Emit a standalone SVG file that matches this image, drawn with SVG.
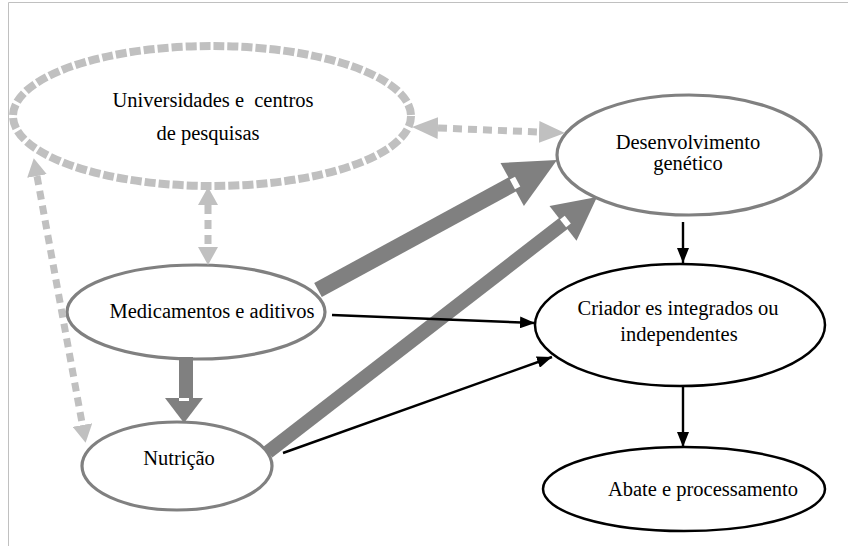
<svg xmlns="http://www.w3.org/2000/svg" width="848" height="546" viewBox="0 0 848 546">
<style>
text{font-family:"Liberation Serif","Times New Roman",serif;font-size:20.5px;fill:#000;text-anchor:middle}
.gn{fill:#fff;stroke:#808080;stroke-width:3.2}
.bn{fill:#fff;stroke:#000;stroke-width:2.5}
.dn{fill:#fff;stroke:#c0c0c0;stroke-width:8;stroke-dasharray:11 3}
.dc{fill:none;stroke:#c0c0c0;stroke-width:7;stroke-dasharray:9 6;marker-start:url(#dh);marker-end:url(#dh)}
.bc{fill:none;stroke:#000;stroke-width:2.4;marker-end:url(#bh)}
.th{fill:#808080}
.tl{stroke:#808080;fill:none}
.nt{fill:#fff}
</style>
<defs>
<marker id="dh" viewBox="0 -10 18 20" refX="0" refY="0" markerWidth="18" markerHeight="20" markerUnits="userSpaceOnUse" orient="auto-start-reverse"><path d="M0,-10 L18,0 L0,10 z" fill="#c0c0c0"/></marker>
<marker id="dhl" viewBox="0 -11 26 22" refX="0" refY="0" markerWidth="26" markerHeight="22" markerUnits="userSpaceOnUse" orient="auto-start-reverse"><path d="M0,-11 L26,0 L0,11 z" fill="#c0c0c0"/></marker>
<marker id="bh" viewBox="0 0 15 12" refX="15" refY="6" markerWidth="15" markerHeight="12" markerUnits="userSpaceOnUse" orient="auto"><path d="M0,0 L15,6 L0,12 z" fill="#000"/></marker>
</defs>
<g id="frame"><path d="M8.5,546 V2.5 H848" fill="none" stroke="#c0c0c0" stroke-width="1"/></g>
<g id="universidades"><ellipse class="dn" cx="212" cy="116" rx="199" ry="70"/><text x="213" y="107" style="white-space:pre">Universidades e  centros</text><text x="208" y="140">de pesquisas</text></g>
<g id="desenvolvimento"><ellipse class="gn" cx="689" cy="155" rx="132" ry="60"/><text x="688" y="149">Desenvolvimento</text><text x="688" y="170">genético</text></g>
<g id="medicamentos"><ellipse class="gn" cx="196" cy="312" rx="129" ry="47"/><text x="212" y="318">Medicamentos e aditivos</text></g>
<g id="nutricao"><ellipse class="gn" cx="177" cy="466" rx="95" ry="44"/><text x="179" y="465">Nutrição</text></g>
<g id="criadores"><ellipse class="bn" cx="680" cy="325" rx="145" ry="61"/><text x="678" y="315">Criador es integrados ou</text><text x="679" y="341">independentes</text></g>
<g id="abate"><ellipse class="bn" cx="684" cy="489" rx="141" ry="42"/><text x="703" y="496">Abate e processamento</text></g>
<g id="connectors">
<path class="dc" d="M438,128 L539,132" style="marker-start:url(#dhl);marker-end:url(#dhl)"/>
<path class="dc" d="M208,205 L208,247"/>
<path class="dc" d="M37,176 L82.4,425"/>
<line class="tl" x1="318" y1="290" x2="513" y2="184" stroke-width="16"/>
<polygon class="th" points="500.5,162.9 557,160 523.9,205.9"/>
<rect class="nt" x="-3" y="-5.5" width="6" height="11" transform="translate(515,183) rotate(-28.5)"/>
<line class="tl" x1="268" y1="452" x2="564" y2="223" stroke-width="14"/>
<polygon class="th" points="549.5,205.9 597,197 576.5,240.7"/>
<rect class="nt" x="-3" y="-5" width="6" height="10" transform="translate(565.4,221.5) rotate(-37.8)"/>
<rect class="th" x="179" y="357" width="14" height="42"/>
<polygon class="th" points="165,398 203,398 184,423"/>
<rect class="nt" x="179" y="398" width="10" height="3"/>
<path class="bc" d="M683,222 L683,263"/>
<path class="bc" d="M683,386 L683,447"/>
<path class="bc" d="M332,315 L535,323"/>
<path class="bc" d="M283,453 L552,357"/>
</g>
</svg>
